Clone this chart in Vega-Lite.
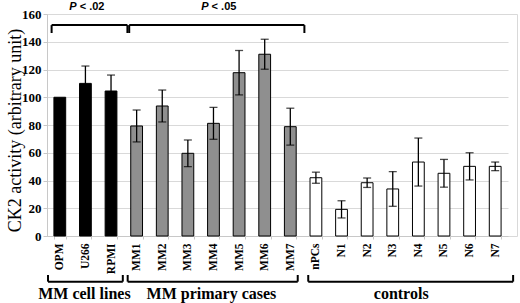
{
  "$schema": "https://vega.github.io/schema/vega-lite/v6.json",
  "width": 470,
  "height": 222,
  "autosize": {"type": "none"},
  "padding": {"left": 47, "top": 14, "right": 3, "bottom": 67},
  "background": "white",
  "config": {
    "view": {"stroke": "#d9d9d9"},
    "axis": {"gridColor": "#d9d9d9", "domainColor": "#c8c8c8", "tickColor": "#c8c8c8"},
    "axisY": {
      "grid": true,
      "labelFont": "Liberation Serif", "labelFontWeight": "bold", "labelFontSize": 13, "labelColor": "black",
      "labelPadding": 2, "tickSize": 4,
      "titleFont": "Liberation Serif", "titleFontWeight": "normal", "titleFontSize": 18, "titleColor": "black",
      "titleX": -32, "titleY": 116, "titleAngle": -90, "titleBaseline": "middle", "titleAlign": "center"
    }
  },
  "datasets": {
    "bars": [
      {"cat": "OPM", "group": "cell", "v": 100, "e": 0},
      {"cat": "U266", "group": "cell", "v": 110, "e": 12.5},
      {"cat": "RPMI", "group": "cell", "v": 104.5, "e": 11.5},
      {"cat": "MM1", "group": "prim", "v": 79.3, "e": 11.5},
      {"cat": "MM2", "group": "prim", "v": 93.7, "e": 11.5},
      {"cat": "MM3", "group": "prim", "v": 59.6, "e": 9.6},
      {"cat": "MM4", "group": "prim", "v": 81.2, "e": 11.5},
      {"cat": "MM5", "group": "prim", "v": 117.7, "e": 16},
      {"cat": "MM6", "group": "prim", "v": 131, "e": 10.8},
      {"cat": "MM7", "group": "prim", "v": 78.8, "e": 13.3},
      {"cat": "nPCs", "group": "ctrl", "v": 42, "e": 4},
      {"cat": "N1", "group": "ctrl", "v": 19.2, "e": 6.2},
      {"cat": "N2", "group": "ctrl", "v": 38.4, "e": 3.4},
      {"cat": "N3", "group": "ctrl", "v": 33.9, "e": 12.5},
      {"cat": "N4", "group": "ctrl", "v": 53.3, "e": 17.3},
      {"cat": "N5", "group": "ctrl", "v": 45.2, "e": 10},
      {"cat": "N6", "group": "ctrl", "v": 50.2, "e": 9.8},
      {"cat": "N7", "group": "ctrl", "v": 50.2, "e": 3.1}
    ],
    "brackets": [
      {"x1": 0.18, "x2": 3.14, "y": 152, "yt": 146.3},
      {"x1": 3.21, "x2": 10.05, "y": 152, "yt": 146.3},
      {"x1": 0.04, "x2": 2.96, "y": -32.9, "yt": -28.1},
      {"x1": 3.15, "x2": 9.79, "y": -32.9, "yt": -28.1},
      {"x1": 10.2, "x2": 18.2, "y": -32.9, "yt": -28.1}
    ],
    "groups": [
      {"label": "MM cell lines", "x": 1.46, "y": -41.8},
      {"label": "MM primary cases", "x": 6.42, "y": -41.8},
      {"label": "controls", "x": 13.83, "y": -41.8}
    ],
    "pvals": [
      {"p": "P", "rest": "< .02", "x": 1.16, "y": 165.3},
      {"p": "P", "rest": "< .05", "x": 6.31, "y": 165.3}
    ]
  },
  "layer": [
    {
      "data": {"name": "bars"},
      "encoding": {
        "x": {
          "field": "cat", "type": "nominal", "sort": null,
          "scale": {"range": [0, 461], "paddingInner": 0.54, "paddingOuter": 0.27},
          "axis": {
            "title": null, "labelAngle": -90, "labelFont": "Liberation Serif", "labelFontWeight": "bold",
            "labelFontSize": 11.5, "labelColor": "black", "labelPadding": 4, "labelOverlap": false,
            "tickBand": "extent", "tickSize": 3, "domain": true, "grid": false
          }
        }
      },
      "layer": [
        {
          "mark": {"type": "bar", "stroke": "black", "strokeWidth": 1},
          "encoding": {
            "y": {"field": "v", "type": "quantitative", "scale": {"domain": [0, 160], "nice": false},
              "axis": {"title": "CK2 activity  (arbitrary unit)", "values": [0, 20, 40, 60, 80, 100, 120, 140, 160]}},
            "fill": {
              "field": "group", "type": "nominal", "legend": null,
              "scale": {"domain": ["cell", "prim", "ctrl"], "range": ["#000000", "#8f8f8f", "#ffffff"]}
            }
          }
        },
        {
          "transform": [{"filter": "datum.e > 0"}],
          "mark": {"type": "errorbar", "ticks": {"size": 8, "thickness": 1.3, "color": "black"}, "rule": {"strokeWidth": 1.3, "color": "black"}},
          "encoding": {
            "y": {"field": "v", "type": "quantitative", "scale": {"domain": [0, 160], "nice": false},
              "axis": {"title": "CK2 activity  (arbitrary unit)", "values": [0, 20, 40, 60, 80, 100, 120, 140, 160]}},
            "yError": {"field": "e"}
          }
        }
      ]
    },
    {
      "layer": [
        {
          "data": {"name": "brackets"},
          "mark": {"type": "rule", "color": "black", "strokeWidth": 2},
          "encoding": {
            "x": {"field": "x1", "type": "quantitative", "scale": {"domain": [0, 18], "range": [0, 461]}, "axis": null},
            "x2": {"field": "x2"},
            "y": {"field": "y", "type": "quantitative", "scale": {"domain": [0, 160], "nice": false},
              "axis": {"title": "CK2 activity  (arbitrary unit)", "values": [0, 20, 40, 60, 80, 100, 120, 140, 160]}}
          }
        },
        {
          "data": {"name": "brackets"},
          "mark": {"type": "rule", "color": "black", "strokeWidth": 2},
          "encoding": {
            "x": {"field": "x1", "type": "quantitative", "scale": {"domain": [0, 18], "range": [0, 461]}, "axis": null},
            "y": {"field": "y", "type": "quantitative", "scale": {"domain": [0, 160], "nice": false},
              "axis": {"title": "CK2 activity  (arbitrary unit)", "values": [0, 20, 40, 60, 80, 100, 120, 140, 160]}},
            "y2": {"field": "yt"}
          }
        },
        {
          "data": {"name": "brackets"},
          "mark": {"type": "rule", "color": "black", "strokeWidth": 2},
          "encoding": {
            "x": {"field": "x2", "type": "quantitative", "scale": {"domain": [0, 18], "range": [0, 461]}, "axis": null},
            "y": {"field": "y", "type": "quantitative", "scale": {"domain": [0, 160], "nice": false},
              "axis": {"title": "CK2 activity  (arbitrary unit)", "values": [0, 20, 40, 60, 80, 100, 120, 140, 160]}},
            "y2": {"field": "yt"}
          }
        },
        {
          "data": {"name": "groups"},
          "mark": {"type": "text", "font": "Liberation Serif", "fontWeight": "bold", "fontSize": 16, "color": "black", "baseline": "middle", "align": "center"},
          "encoding": {
            "x": {"field": "x", "type": "quantitative", "scale": {"domain": [0, 18], "range": [0, 461]}, "axis": null},
            "y": {"field": "y", "type": "quantitative", "scale": {"domain": [0, 160], "nice": false},
              "axis": {"title": "CK2 activity  (arbitrary unit)", "values": [0, 20, 40, 60, 80, 100, 120, 140, 160]}},
            "text": {"field": "label"}
          }
        },
        {
          "data": {"name": "pvals"},
          "mark": {"type": "text", "font": "Liberation Sans", "fontWeight": "bold", "fontStyle": "italic", "fontSize": 11, "color": "black", "baseline": "middle", "align": "right"},
          "encoding": {
            "x": {"field": "x", "type": "quantitative", "scale": {"domain": [0, 18], "range": [0, 461]}, "axis": null},
            "y": {"field": "y", "type": "quantitative", "scale": {"domain": [0, 160], "nice": false},
              "axis": {"title": "CK2 activity  (arbitrary unit)", "values": [0, 20, 40, 60, 80, 100, 120, 140, 160]}},
            "text": {"field": "p"}
          }
        },
        {
          "data": {"name": "pvals"},
          "mark": {"type": "text", "font": "Liberation Sans", "fontWeight": "bold", "fontSize": 11, "color": "black", "baseline": "middle", "align": "left", "dx": 3},
          "encoding": {
            "x": {"field": "x", "type": "quantitative", "scale": {"domain": [0, 18], "range": [0, 461]}, "axis": null},
            "y": {"field": "y", "type": "quantitative", "scale": {"domain": [0, 160], "nice": false},
              "axis": {"title": "CK2 activity  (arbitrary unit)", "values": [0, 20, 40, 60, 80, 100, 120, 140, 160]}},
            "text": {"field": "rest"}
          }
        }
      ]
    }
  ],
  "resolve": {"scale": {"x": "independent"}}
}
